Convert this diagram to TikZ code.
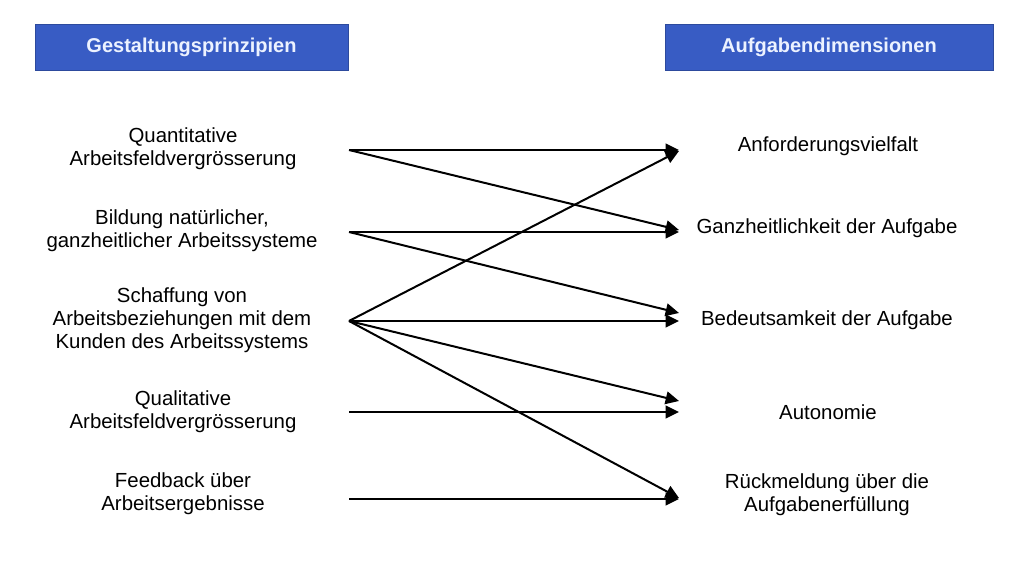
\documentclass[tikz,border=0pt]{standalone}
\usepackage{fontspec}
\setmainfont{Liberation Sans}
\usetikzlibrary{arrows.meta}
\definecolor{hdrblue}{RGB}{56,92,196}
\definecolor{hdrtext}{RGB}{236,242,255}
\tikzset{
  hdr/.style={fill=hdrblue, draw=hdrblue!80!black, line width=0.4pt, minimum width=313*0.75pt, minimum height=46*0.75pt, inner sep=0pt,
    text=hdrtext, font=\fontsize{15}{18}\selectfont\bfseries},
  lbl/.style={align=center, inner sep=0pt, font=\fontsize{15.3}{17.25}\selectfont},
  conn/.style={line width=1.5pt, -{Triangle[length=10pt,width=9.5pt]}},
}
\begin{document}
\begin{tikzpicture}[x=0.75pt,y=-0.75pt]
\useasboundingbox[fill=white] (0,0) rectangle (1015,570);
% headers
\node[hdr] (h1) at (191.5,47) {Gestaltungsprinzipien};
\node[hdr, minimum width=328*0.75pt] (h2) at (829,47) {Aufgabendimensionen};
% left labels
\node[lbl] (l1) at (183,148.5) {Quantitative\\Arbeitsfeldvergrösserung};
\node[lbl] (l2) at (182,231) {Bildung natürlicher,\\ganzheitlicher Arbeitssysteme};
\node[lbl] (l3) at (182,320) {Schaffung von\\Arbeitsbeziehungen mit dem\\Kunden des Arbeitssystems};
\node[lbl] (l4) at (183,411.5) {Qualitative\\Arbeitsfeldvergrösserung};
\node[lbl] (l5) at (183,493.5) {Feedback über\\Arbeitsergebnisse};
% right labels
\node[lbl] (r1) at (828,146) {Anforderungsvielfalt};
\node[lbl] (r2) at (827,228) {Ganzheitlichkeit der Aufgabe};
\node[lbl] (r3) at (827,320) {Bedeutsamkeit der Aufgabe};
\node[lbl] (r4) at (828,412) {Autonomie};
\node[lbl] (r5) at (827,495) {Rückmeldung über die\\Aufgabenerfüllung};
% connector end points
\coordinate (s1) at (349,150);
\coordinate (s2) at (349,232);
\coordinate (s3) at (349,321);
\coordinate (s4) at (349,412);
\coordinate (s5) at (349,499);
\coordinate (t1a) at (679,150);
\coordinate (t1b) at (679,151);
\coordinate (t2a) at (679,230);
\coordinate (t2b) at (679,232);
\coordinate (t3a) at (679,313);
\coordinate (t3b) at (679,321);
\coordinate (t4a) at (679,401);
\coordinate (t4b) at (679,412);
\coordinate (t5a) at (679,498);
\coordinate (t5b) at (679,499);
% connectors
\draw[conn] (s1) -- (t1a);
\draw[conn] (s1) -- (t2a);
\draw[conn] (s2) -- (t2b);
\draw[conn] (s2) -- (t3a);
\draw[conn] (s3) -- (t1b);
\draw[conn] (s3) -- (t3b);
\draw[conn] (s3) -- (t4a);
\draw[conn] (s3) -- (t5a);
\draw[conn] (s4) -- (t4b);
\draw[conn] (s5) -- (t5b);
\end{tikzpicture}
\end{document}
